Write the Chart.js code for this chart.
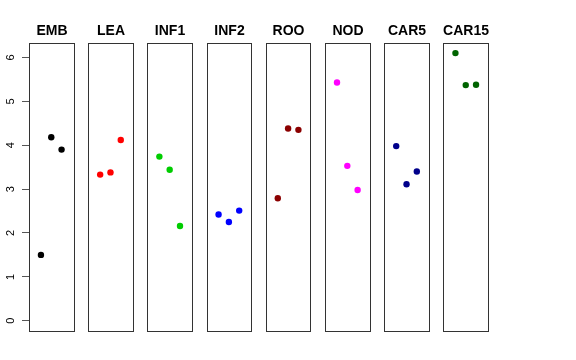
<!DOCTYPE html>
<html>
<head>
<meta charset="utf-8">
<script src="https://cdn.jsdelivr.net/npm/chart.js@4/dist/chart.umd.min.js"></script>
<style>
  body { margin: 0; background: #fff; }
  canvas { display: block; }
</style>
</head>
<body>
<canvas id="chart" width="576" height="360"></canvas>
<script>
// === Datos ===
const categories = ["EMB", "LEA", "INF1", "INF2", "ROO", "NOD", "CAR5", "CAR15"];
const embValues = [1.50, 4.18, 3.90];
const leaValues = [3.33, 3.38, 4.12];
const inf1Values = [3.74, 3.44, 2.16];
const inf2Values = [2.42, 2.25, 2.51];
const rooValues = [2.79, 4.38, 4.35];
const nodValues = [5.43, 3.53, 2.98];
const car5Values = [3.98, 3.11, 3.40];
const car15Values = [6.10, 5.37, 5.38];
const yTicks = [0, 1, 2, 3, 4, 5, 6];

const series = [embValues, leaValues, inf1Values, inf2Values, rooValues, nodValues, car5Values, car15Values];
const colors = ["#000000", "#ff0000", "#00cd00", "#0000ff", "#8b0000", "#ff00ff", "#00008b", "#006400"];

// each panel spans x = -0.16 .. 4.16, panels placed PANEL_STEP apart
const PANEL_STEP = 5.745;
const X_LO = -0.16, X_HI = 4.16;

const datasets = series.map((vals, k) => ({
    label: categories[k],
    data: vals.map((v, i) => ({ x: k * PANEL_STEP + i + 1, y: v })),
    backgroundColor: colors[k],
    borderColor: colors[k],
    pointRadius: 3.2,
    pointHoverRadius: 3.2,
    borderWidth: 0,
}));

// === Paneles, titulos y etiquetas ===
const panelPlugin = {
    id: "panels",
    beforeDatasetsDraw(chart) {
        const { ctx, chartArea, scales: { x } } = chart;
        ctx.save();
        ctx.strokeStyle = "#333";
        ctx.lineWidth = 1;
        ctx.fillStyle = "#000";
        ctx.font = "bold 14px 'Liberation Sans', Arial, sans-serif";
        ctx.textAlign = "center";
        ctx.textBaseline = "alphabetic";
        categories.forEach((name, k) => {
            const l = Math.round(x.getPixelForValue(k * PANEL_STEP + X_LO)) + 0.5;
            const r = Math.round(x.getPixelForValue(k * PANEL_STEP + X_HI)) + 0.5;
            ctx.strokeRect(l, Math.round(chartArea.top) + 0.5, r - l, Math.round(chartArea.bottom - chartArea.top));
            ctx.fillText(name, (l + r) / 2, 35);
        });
        ctx.restore();
    },
    afterDraw(chart) {
        const { ctx, scales: { y } } = chart;
        ctx.save();
        ctx.fillStyle = "#000";
        ctx.font = "11px 'Liberation Sans', Arial, sans-serif";
        ctx.textAlign = "center";
        ctx.textBaseline = "alphabetic";
        yTicks.forEach(t => {
            ctx.save();
            ctx.translate(13.5, y.getPixelForValue(t));
            ctx.rotate(-Math.PI / 2);
            ctx.fillText(String(t), 0, 0);
            ctx.restore();
        });
        ctx.restore();
    }
};

new Chart(document.getElementById("chart"), {
    type: "scatter",
    data: { datasets },
    options: {
        responsive: false,
        animation: false,
        layout: { padding: { left: 0, top: 43, right: 88, bottom: 29 } },
        plugins: { legend: { display: false }, tooltip: { enabled: false }, title: { display: false } },
        scales: {
            x: {
                type: "linear",
                display: false,
                min: X_LO,
                max: (categories.length - 1) * PANEL_STEP + X_HI,
            },
            y: {
                type: "linear",
                min: -0.235,
                max: 6.33,
                afterFit(scale) { scale.width = 29; },
                afterBuildTicks(scale) { scale.ticks = yTicks.map(v => ({ value: v })); },
                ticks: { display: false },
                grid: { drawOnChartArea: false, drawTicks: true, tickLength: 7, color: "#555" },
                border: { display: false },
            },
        },
    },
    plugins: [panelPlugin],
});
</script>
</body>
</html>
